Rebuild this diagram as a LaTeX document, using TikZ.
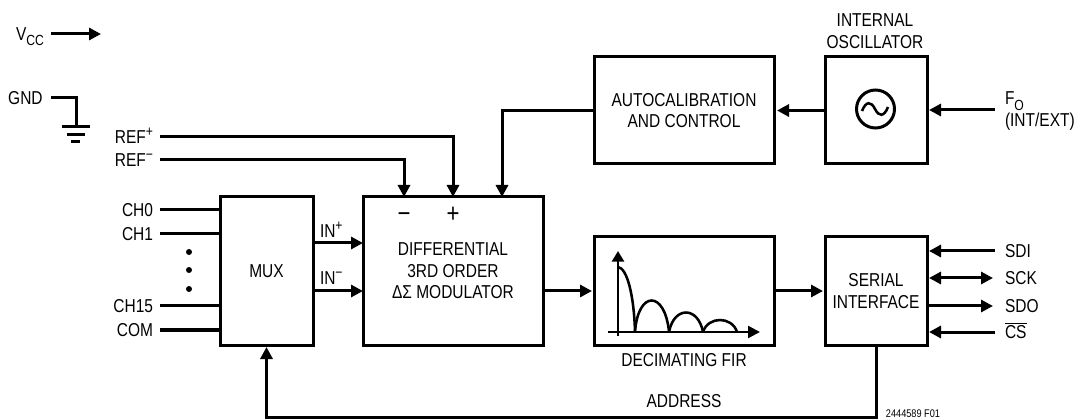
\documentclass[tikz,border=0pt]{standalone}
\usepackage{fontspec}
\usepackage{tikz}
\usetikzlibrary{arrows.meta}
\setmainfont{Liberation Sans}[FakeStretch=0.83]
\newcommand{\chdot}[1]{\fill [black] (#1) circle (2.25pt)}
\newcommand{\lowtxt}[1]{\raisebox{-3.8pt}{\fontsize{11}{11}\selectfont #1}}
\newcommand{\hightxt}[1]{\raisebox{5pt}{\fontsize{11}{11}\selectfont #1}}
\tikzset{
  wire/.style={line width=2.25pt},
  sig/.style={wire,-{Triangle[length=9pt,width=9pt]}},
  sigb/.style={wire,{Triangle[length=9pt,width=9pt]}-{Triangle[length=9pt,width=9pt]}},
  thin wire/.style={line width=1.9pt},
  txt/.style={font=\fontsize{14}{16.1}\selectfont,align=center,inner sep=0pt,outer sep=0pt},
  blk/.style={txt,draw,line width=2.25pt},
  lbl/.style={txt,text height=10pt,text depth=0pt,inner ysep=0pt},
  lbll/.style={lbl,anchor=east,inner xsep=5.25pt},
  lblr/.style={lbl,anchor=west,inner xsep=7.5pt},
  pol/.style={txt,font=\fontsize{20}{20}\selectfont,text height=10pt,text depth=0pt}
}
\begin{document}
\begin{tikzpicture}[x=.75pt,y=-.75pt]
    \useasboundingbox (0,0) rectangle (1078,420);

    % blocks
    \node[blk,minimum width=69.75pt,minimum height=111pt] (mux) at (266.5,271) {MUX};
    \node[blk,minimum width=135pt,minimum height=111pt] (mod) at (453,271) {DIFFERENTIAL\\3RD ORDER\\ΔΣ MODULATOR};
    \node[blk,minimum width=135pt,minimum height=81pt] (fir) at (684,291) {};
    \node[blk,minimum width=76.5pt,minimum height=81pt] (ser) at (876,291) {SERIAL\\INTERFACE};
    \node[blk,minimum width=135pt,minimum height=80.25pt] (acal) at (684,110.5) {AUTOCALIBRATION\\AND CONTROL};
    \node[blk,minimum width=76.5pt,minimum height=80.25pt] (osc) at (876,110.5) {};

    \node[txt] (osclbl) at (875,31) {INTERNAL\\OSCILLATOR};
    \node[txt] (firlbl) at (684,360) {DECIMATING FIR};
    \node[txt] (addr) at (684,401) {ADDRESS};
    \node[txt,font=\fontsize{8.3}{10}\selectfont] (figno) at (913,414) {2444589 F01};

    % input labels
    \node[lbll] (vcc) at (51,34) {V\lowtxt{CC}};
    \node[lbll,inner xsep=6.25pt] (gnd) at (51,98) {GND};
    \node[lbll] (refp) at (160,136.5) {REF\hightxt{+}};
    \node[lbll] (refm) at (160,159.5) {REF\hightxt{−}};
    \node[lbll] (ch0) at (160,210) {CH0};
    \node[lbll] (ch1) at (160,234) {CH1};
    \node[lbll] (ch15) at (160,306) {CH15};
    \node[lbll] (com) at (160,330) {COM};

    \node[lblr] (sdi) at (995,251) {SDI};
    \node[lblr] (sck) at (995,278) {SCK};
    \node[lblr] (sdo) at (995,306) {SDO};
    \node[lblr] (cs) at (995,332) {$\overline{\mbox{CS}}$};
    \node[txt,anchor=west,align=left,inner xsep=7.5pt] (fo) at (995,111.5) {F\lowtxt{O}\\[.4pt](INT/EXT)};

    \node[lbl,anchor=west] (inp) at (320,231) {IN\hightxt{+}};
    \node[lbl,anchor=west] (inm) at (320,278) {IN\hightxt{−}};
    \node[pol] (modm) at (404,216) {−};
    \node[pol] (modp) at (453,216) {+};

    \coordinate (vccend) at (101,34);
    \coordinate (gndtop) at (76,127);
    \coordinate (foend) at (995,110);
    \coordinate (modc) at (502,197);
    \coordinate (rowp) at (340,243);
    \coordinate (rowm) at (340,291);
    \coordinate (adr) at (600,417);

    \draw[sig] (vcc.east) -- (vccend);
    \draw[wire] (gnd.east) -| (gndtop);
    \draw[wire] (62,127) -- (90,127);
    \draw[wire] (67,135) -- (85,135);
    \draw[wire] (71,142) -- (80,142);

    \draw[sig] (refp.east) -| (modp.center |- mod.north);
    \draw[sig] (refm.east) -| (modm.center |- mod.north);
    \draw[sig] (acal.west) -| (modc);
    \draw[sig,shorten >=2.25pt] (osc.west) -- (acal.east);
    \draw[sig,shorten >=1.5pt] (foend) -- (osc.east |- foend);

    \draw[wire] (ch0.east) -- (ch0.east -| mux.west);
    \draw[wire] (ch1.east) -- (ch1.east -| mux.west);
    \draw[wire] (ch15.east) -- (ch15.east -| mux.west);
    \draw[wire] (com.east) -- (com.east -| mux.west);

    \draw[sig] (mux.east |- rowp) -- (mod.west |- rowp);
    \draw[sig] (mux.east |- rowm) -- (mod.west |- rowm);
    \draw[sig,shorten >=1.5pt] (mod.east |- rowm) -- (fir.west |- rowm);
    \draw[sig,shorten >=1.5pt] (fir.east |- rowm) -- (ser.west |- rowm);

    \draw[sig,shorten >=1.5pt] (sdi.west) -- (sdi.west -| ser.east);
    \draw[sigb,shorten <=1.5pt,shorten >=1.5pt] (sck.west -| ser.east) -- (sck.west);
    \draw[sig,shorten >=1.5pt] (sdo.west -| ser.east) -- (sdo.west);
    \draw[sig,shorten >=1.5pt] (cs.west) -- (cs.west -| ser.east);

    \draw[sig,shorten >=1.5pt] (ser.south) |- (adr) -| (mux.south);

    % channel dots
    \chdot{189,252};
    \chdot{189,270};
    \chdot{189,289};

    % oscillator symbol
    \node[draw,circle,line width=2.25pt,minimum size=28.5pt,inner sep=0pt] (sine) at (875.5,109) {};
    \draw[thin wire] (862,111) .. controls (866,101) and (871,101) .. (875,109) .. controls (879,117) and (884,117) .. (888,107);

    % filter response
    \draw[sig,line width=1.9pt,-{Triangle[length=8pt,width=9pt]}] (618,336) -- (618,251);
    \draw[sig,line width=1.9pt] (608,332) -- (760,332);
    \draw[thin wire] (618,267) .. controls (627,268) and (634,295) .. (635,332);
    \draw[thin wire] (635,332) .. controls (638,290) and (665,290) .. (669,332);
    \draw[thin wire] (669,332) .. controls (674,306) and (698,306) .. (703,332);
    \draw[thin wire] (703,332) .. controls (708,316) and (732,316) .. (737,332);
\end{tikzpicture}
\end{document}
